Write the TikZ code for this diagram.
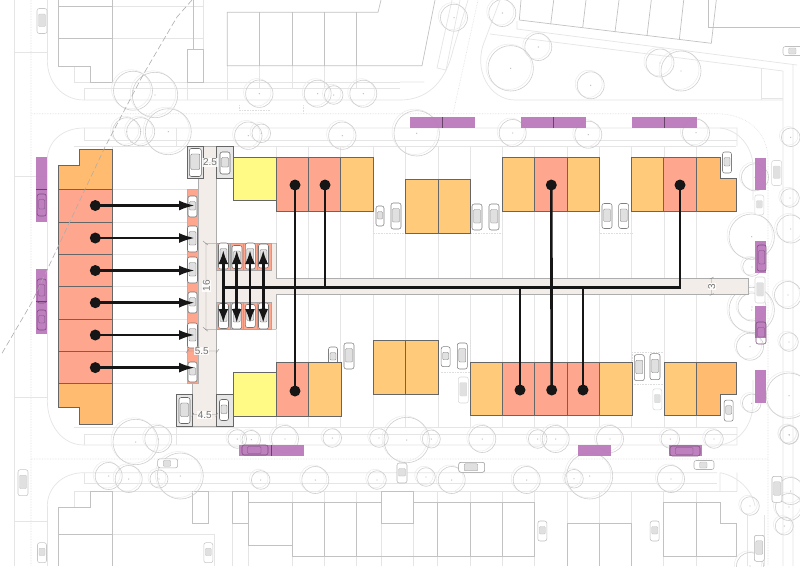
\documentclass[tikz,border=0pt]{standalone}
\usepackage{fontspec}
\setmainfont{Liberation Sans}
\usetikzlibrary{arrows.meta}
\definecolor{redunit}{HTML}{FFA68E}
\definecolor{orangeunit}{HTML}{FFCB7A}
\definecolor{cornerunit}{HTML}{FFBC70}
\definecolor{yellowunit}{HTML}{FFF986}
\definecolor{roadfill}{HTML}{F2EDE8}
\definecolor{purplebar}{HTML}{BB7ABB}
\definecolor{bayfill}{HTML}{E6E6E6}
\definecolor{inkk}{HTML}{161616}
\tikzset{
  x=1pt,y=-1pt,
  unitline/.style={draw=black!60,line width=1pt},
  redbox/.style={unitline,fill=redunit},
  orangebox/.style={unitline,fill=orangeunit},
  cornerbox/.style={unitline,fill=cornerunit},
  yellowbox/.style={unitline,fill=yellowunit},
  purplebox/.style={fill=purplebar,draw=none,opacity=.95},
  purplesep/.style={draw=black!45!purplebar,line width=.5pt},
  roadedge/.style={draw=black!32,line width=1pt},
  baybox/.style={draw=black!60,line width=1pt,fill=bayfill},
  tree/.style={draw=black!19,line width=.6pt},
  treehalo/.style={draw=black!8,line width=.5pt},
  ctxdark/.style={draw=black!24,line width=.7pt},
  ctxlight/.style={draw=black!10,line width=.7pt},
  ctxdot/.style={draw=black!13,line width=.6pt,densely dotted},
  dimline/.style={draw=black!45,line width=.4pt},
  dimlabel/.style={fill=white,fill opacity=.85,text opacity=1,text=black!55,font=\fontsize{10}{11}\selectfont,inner sep=.6pt},
  housedot/.style={circle,fill=inkk,draw=none,minimum size=11pt,inner sep=0pt},
  link/.style={draw=inkk,line width=2.6pt},
  arrowlink/.style={link,-{Latex[length=16pt,width=10pt]}},
  bothlink/.style={link,{Latex[length=14pt,width=10pt]}-{Latex[length=14pt,width=10pt]}},
}
% car: x, y, length, width, angle, line shade
\newcommand{\carsym}[6]{%
  \begin{scope}[shift={(#1,#2)},rotate=#5]
    \draw[draw=black!#6,fill=white,line width=.55pt,rounded corners=2.2pt] (-#4/2,-#3/2) rectangle (#4/2,#3/2);
    \draw[draw=black!#6,fill=black!12,line width=.35pt,rounded corners=1pt] (-#4/2+1.5,-#3/2+5.5) rectangle (#4/2-1.5,#3/2-7);
  \end{scope}}
\newcommand{\carghost}[5]{%
  \begin{scope}[shift={(#1,#2)},rotate=#5]
    \draw[draw=black!35!purplebar,line width=.55pt,rounded corners=2.2pt] (-#4/2,-#3/2) rectangle (#4/2,#3/2);
    \draw[draw=black!35!purplebar,line width=.35pt,rounded corners=1pt] (-#4/2+1.5,-#3/2+5.5) rectangle (#4/2-1.5,#3/2-7);
  \end{scope}}
\newcommand{\treesym}[3]{%
  \draw[treehalo] (#1-2,#2-1.5) circle[radius=#3 pt];
  \draw[tree] (#1,#2) circle[radius=#3 pt];
  \fill[black!25] (#1,#2) circle[radius=.7pt];}
\begin{document}
\begin{tikzpicture}
\useasboundingbox (0,0) rectangle (800,566);
\fill[white] (0,0) rectangle (800,566);

% ---- faint street context
\draw[ctxlight] (14.7,0) -- (14.7,566) (47.3,0) -- (47.3,60) (47.3,160) -- (47.3,400) (47.3,506) -- (47.3,566);
\draw[ctxlight] (14.7,52) -- (47.3,52) (14.7,397) -- (47.3,397) (14.7,176) -- (47.3,176) (14.7,521) -- (47.3,521);
\draw[ctxlight] (47.3,60) .. controls (47.3,82) and (62,100) .. (84,100) -- (400,100) .. controls (425,100) and (445,85) .. (453,50) -- (468,0);
\draw[ctxlight] (400,82) -- (424,82) (437,68) -- (452,0) (437,68) -- (446,70) -- (460,0);
\draw[ctxlight] (74,66) -- (74,82) -- (400,82);
\draw[ctxlight] (84,100) -- (84,88.7) -- (400,88.7) (187,82) -- (187,100) (227,66) -- (227,100);
\draw[ctxlight] (112,6.3) -- (203.5,6.3) (112,38.7) -- (203.5,38.7) (203.5,0) -- (203.5,49);
\draw[ctxlight] (500,0) -- (485,40) .. controls (472,70) and (490,100) .. (515,100) -- (783,100);
\draw[ctxlight] (517,21) -- (517,29) -- (797,65) (490,34) -- (783,71) -- (783,566) (793,65) -- (793,566);
\draw[ctxlight] (761.7,68) -- (761.7,100) (761.7,98) -- (783,98);
\draw[ctxlight] (47.3,160) .. controls (47.3,142) and (62,128) .. (84,128) -- (737,128) -- (737,146);
\draw[ctxlight] (84,128) -- (84,140) -- (737,140) (176,128) -- (176,146) (112,146) -- (112,149) (74,146) -- (736,146);
\draw[ctxlight] (720,128) .. controls (740,130) and (752,148) .. (753,165) -- (753,200);
\draw[ctxlight] (47.3,400) .. controls (47.3,425) and (62,445) .. (84,445) -- (737,445) -- (737,427);
\draw[ctxlight] (84,445) -- (84,434) -- (737,434) (176,427) -- (176,445) (74,427) -- (737,427);
\draw[ctxlight] (720,445) .. controls (740,442) and (752,425) .. (753,405) -- (753,380);
\draw[ctxlight] (47.3,506) .. controls (47.3,488) and (62,472.7) .. (84,472.7) -- (717,472.7);
\draw[ctxlight] (84,472.7) -- (84,483.3) -- (717,483.3) (74,491.3) -- (737,491.3) (74,491.3) -- (74,507);
\draw[ctxlight] (720,472.7) .. controls (738,476) and (752,490) .. (755,506) (737,472.7) -- (737,491.3) (720,472.7) -- (720,491.3);
\draw[ctxlight] (112,534.7) -- (214,534.7) -- (214,566) (232.7,523.7) -- (232.7,566);
\draw[ctxlight] (764,515) -- (764,566) (747,515) -- (747,566);
% lot lines
\foreach \xx in {276,308,340.5,373,405,438,470,502.3,534.5,567,599.3,631.7,664,696.3}{
  \draw[ctxlight] (\xx,146) -- (\xx,278) (\xx,295) -- (\xx,427);}
\foreach \yy in {189.5,222,254.3,286.5,319,351,383.5}{\draw[ctxlight] (112,\yy) -- (187,\yy);}
\foreach \xx in {248.7,292,324.7,356.7,381,413.7,437.7,470,502.3,534.3,567,599.3,631.7,663.7,696.3}{
  \draw[ctxlight] (\xx,491.3) -- (\xx,566);}
\foreach \xx in {259.7,292,324.7,356.7}{\draw[ctxlight] (\xx,66) -- (\xx,88.7);}
% dotted lines
\draw[ctxdot] (31,0) -- (31,566) (31,113.7) -- (716,113.7) .. controls (745,113.7) and (768,130) .. (768,160) -- (768,566);
\draw[ctxdot] (31,459) -- (768,459) (453,113.7) -- (478,0);
\draw[ctxdot] (239,105) -- (239,110) -- (270,110) (303,105) -- (303,113.7);
\draw[ctxdot] (373,204) -- (373,233) -- (405,233) (470,204) -- (470,233) -- (502,233) (599,200) -- (599,233) -- (632,233);
\draw[ctxdot] (438,340) -- (438,372) (470,340) -- (470,372) -- (440,372) (632,352) -- (664,352) (632,352) -- (632,384) -- (664,384);

% ---- dark context buildings
\draw[ctxdark] (58,0) -- (58,66) -- (90,66) -- (90,82) -- (112,82) -- (112,0) (58,6.3) -- (112,6.3) (58,38.7) -- (112,38.7);
\draw[ctxdark] (187,82) rectangle (203.5,49.3) (193,0) -- (193,49.3);
\draw[ctxdark] (381,0) -- (378,12.3) -- (227.3,12.3) -- (227.3,65.7) -- (422,65.7) -- (435,0);
\foreach \xx in {259.7,292,324.7,356.7}{\draw[ctxdark] (\xx,12.3) -- (\xx,65.7);}
\draw[ctxdark] (521,0) -- (519.3,20) -- (711.3,43.3) -- (716.3,0);
\draw[ctxdark] (550.7,24.3) -- (553.7,0) (582.7,27.7) -- (586,0) (615,32) -- (619,0) (647,35.7) -- (651.3,0) (679.3,39.7) -- (683.7,0);
\draw[ctxdark] (708.3,0) -- (708.3,27.3) -- (800,27.3);
\draw[ctxdark] (58,566) -- (58,507.7) -- (90,507.7) -- (90,491.3) -- (112,491.3) -- (112,566) (58,534.7) -- (112,534.7);
\draw[ctxdark] (192.3,491.3) rectangle (208.3,523.7) (232.7,491.3) rectangle (248.7,523.7);
\draw[ctxdark] (292,556.7) -- (292,545.7) -- (248.7,545.7) -- (248.7,502.3) -- (380.7,502.3) (292,545.7) -- (292,502.3);
\draw[ctxdark] (292,556.7) -- (534.3,556.7) -- (534.3,502.3) -- (413.7,502.3);
\draw[ctxdark] (381,491.3) -- (381,523.7) -- (413.7,523.7) -- (413.7,491.3) -- (381,491.3);
\foreach \xx in {324.7,356.7,437.7,470,502.3}{\draw[ctxdark] (\xx,502.3) -- (\xx,556.7);}
\draw[ctxdark] (567,566) -- (567,523.7) -- (631.7,523.7) -- (631.7,566) (599.3,523.7) -- (599.3,566);
\draw[ctxdark] (663.7,556.7) -- (663.7,502.3) -- (720.7,502.3) -- (720.7,523.7) -- (736.7,523.7) -- (736.7,556.7) -- (663.7,556.7) (696.3,502.3) -- (696.3,556.7);

% ---- trees
\foreach \a/\b/\r in {133/90.7/19.5,155/95/22.7,259.3/93.7/13.7,317.7/93.7/13.5,333.7/95/9.3,363.3/93.7/13.5,
 126.7/131.7/14,140.7/131.7/14,168.3/131.7/23,248.3/135.7/13.7,261.3/133.3/9.3,342.3/135.7/13.7,416.7/133.3/22.7,
 454/17.7/13.5,502.3/13/13.5,538.3/47/13.5,510.7/68.3/22.7,590.7/85.3/13.5,660/63/14,681/71/20,
 512.7/133/13.5,588.3/134.7/13.5,696/132.7/13.5,790.7/137.3/9.3,
 135.7/442/22.7,158.3/439/13.5,237.3/439/9.3,251.3/439.7/9.3,285/439/13.5,332.3/438/9.3,379/438/9.3,
 406.7/440/22.7,431.3/439/9,482.3/439/13.5,537.7/439/9.3,555.7/439/13.5,610/439/13.5,670.3/439/9.3,714/439/9.3,789.3/435/9.3,
 108.7/476/13.5,128.7/479/13.5,159/479/9,180.3/476/23,260.7/480/9.3,315.3/480/13.5,377/480/9.3,
 426/477/9.3,451.7/480/13.5,526.7/480/13.5,574/478.7/9.3,589.7/476/23,671/479/13.5,750/506/9.3,
 790.7/491/13.5,789/507/13.5,784.3/526/9,750/566/13.5,
 751.7/236.7/22.7,755/177.3/13.5,790/198/9.3,790.7/229/14,752/267/9.3,788/295/13.5,752/307/14,
 750/346.7/13.5,751.7/403.3/9.3,789/395.7/22.7,789/342/9.3,789/434.7/9.3,751.7/310/22.7}{
  \treesym{\a}{\b}{\r}}

% ---- faint cars
\carsym{42}{21}{25}{10}{0}{22}
\carsym{23}{482.7}{26}{10}{0}{22}
\carsym{42}{552.7}{20}{9}{0}{22}
\carsym{208.3}{552.7}{20}{9}{0}{22}
\carsym{167.7}{463.3}{20}{9}{90}{30}
\carsym{471.7}{467.3}{26}{10}{90}{40}
\carsym{704}{465}{20}{9}{90}{30}
\carsym{777}{489.3}{26}{10}{0}{28}
\carsym{759.3}{548.3}{26}{10}{0}{30}
\carsym{542.3}{531}{20}{9}{0}{25}
\carsym{654.7}{531}{20}{9}{0}{25}
\carsym{402}{473}{20}{10}{0}{28}
\carsym{776.7}{173}{25}{10}{0}{15}
\carsym{759.3}{205}{20}{9}{0}{15}
\carsym{760}{290}{26}{10}{0}{15}
\carsym{463.3}{390}{26}{10}{0}{15}
\carsym{657.3}{399.3}{21}{9}{0}{15}
\carsym{793}{51}{20}{9}{90}{25}

% ---- purple bars
\foreach \xa/\ya/\xb/\yb in {410/117.3/475/128,520.7/117.3/585.7/128,631.7/117.3/696.7/128,
  239/445/303.7/455.7,578.3/445/611/455.7,669.3/445/701.7/455.7,
  36/157/47/221.7,36/269/47/333.7,
  755/157.7/766/190.3,755/241/766/273.3,755/305.7/766/338.3,755/370.3/766/402.7}{
  \fill[purplebox] (\xa,\ya) rectangle (\xb,\yb);}
\draw[purplesep] (442.7,117.3) -- (442.7,128) (553,117.3) -- (553,128) (664,117.3) -- (664,128) (271,445) -- (271,455.7) (36,189.5) -- (47,189.5) (36,301) -- (47,301);
\carghost{41.7}{205}{22}{9}{0}
\carghost{41.7}{291}{24}{9}{0}
\carghost{41.7}{320}{20}{9}{0}
\carghost{255}{450}{26}{10}{90}
\carghost{685}{451}{30}{10}{90}
\carghost{761.7}{258}{26}{9}{0}
\carghost{761}{333}{22}{10}{0}

% ---- roads
\path[fill=roadfill,roadedge] (198,146) -- (216.7,146) -- (216.7,426.7) -- (192.7,426.7) -- (192.7,383.5) -- (198,383.5) -- cycle;
\path[fill=roadfill] (216.7,243) -- (276,243) -- (276,278.3) -- (748.3,278.3) -- (748.3,294.7) -- (276,294.7) -- (276,329.3) -- (216.7,329.3) -- cycle;
\draw[roadedge] (276,243) -- (276,278.3) -- (748.3,278.3) -- (748.3,294.7) -- (276,294.7) -- (276,329.3);
\draw[ctxdark] (205,243) -- (276,243) (205,329.3) -- (276,329.3);

% ---- parking bays
\fill[redunit,draw=black!30,line width=.5pt] (187,189.5) rectangle (198,383.5);
\foreach \xa/\xb in {216.7/230.7,230.7/243.7,243.7/257.3,257.3/271}{
  \fill[redunit,draw=black!35,line width=.5pt] (\xa,243) rectangle (\xb,270);
  \fill[redunit,draw=black!35,line width=.5pt] (\xa,302.7) rectangle (\xb,329.3);}
\draw[baybox] (187,146.7) rectangle (203.7,178.7);
\draw[baybox] (216.7,146.7) rectangle (233,178.7);
\draw[baybox] (176.3,394.3) rectangle (192.7,426.7);
\draw[baybox] (216.7,394.3) rectangle (233,426.7);

% ---- main cars
\carsym{192.5}{206.5}{21}{9}{0}{55}
\carsym{192.5}{239}{26}{10}{0}{55}
\carsym{192.5}{270}{26}{10}{0}{55}
\carsym{192.5}{302.5}{21}{9}{0}{55}
\carsym{192.5}{335.5}{25}{10}{0}{55}
\carsym{192.5}{372}{20}{9}{0}{55}
\carsym{195.3}{162.5}{28}{12}{0}{60}
\carsym{225}{163}{22}{10}{0}{60}
\carsym{184.5}{410.5}{26}{11}{0}{60}
\carsym{224}{410}{21}{9}{0}{60}
\carsym{223.5}{256}{26}{10}{0}{55}
\carsym{237}{257}{23}{10}{0}{55}
\carsym{250.3}{256}{26}{10}{0}{55}
\carsym{263.5}{256}{24}{10}{0}{55}
\carsym{223.5}{316}{25}{10}{0}{55}
\carsym{236.7}{316}{26}{10}{0}{55}
\carsym{250.3}{316}{23}{10}{0}{55}
\carsym{263.5}{316}{26}{10}{0}{55}
\carsym{380}{216}{20}{8}{0}{50}
\carsym{396}{216}{26}{10}{0}{50}
\carsym{477}{217}{26}{10}{0}{50}
\carsym{494}{217}{26}{10}{0}{50}
\carsym{607}{216}{25}{10}{0}{50}
\carsym{623.7}{216}{25}{10}{0}{50}
\carsym{727}{162.5}{21}{9}{0}{50}
\carsym{333}{357}{20}{9}{0}{50}
\carsym{349}{356}{26}{10}{0}{50}
\carsym{445.7}{356.7}{20}{9}{0}{50}
\carsym{462.3}{356}{26}{10}{0}{50}
\carsym{639.3}{367.7}{26}{10}{0}{50}
\carsym{655}{366.7}{26}{10}{0}{50}
\carsym{728.7}{410.7}{21}{9}{0}{50}

% ---- housing units
\path[cornerbox] (58,189.5) -- (58,165) -- (79,165) -- (79,149) -- (112,149) -- (112,189.5) -- cycle;
\foreach \ya/\yb in {189.5/222,222/254.3,254.3/286.5,286.5/319,319/351,351/383.5}{
  \path[redbox] (58,\ya) rectangle (112,\yb);}
\path[cornerbox] (58,383.5) -- (112,383.5) -- (112,424) -- (79,424) -- (79,407.7) -- (58,407.7) -- cycle;

\path[yellowbox] (233,157) rectangle (276,200.3);
\path[redbox] (276,157) rectangle (308,211);
\path[redbox] (308,157) rectangle (340.5,211);
\path[orangebox] (340.5,157) rectangle (373,211);
\path[orangebox] (405,179) rectangle (438,233);
\path[orangebox] (438,179) rectangle (470,233);
\path[orangebox] (502.3,157) rectangle (534.3,211);
\path[redbox] (534.3,157) rectangle (567,211);
\path[orangebox] (567,157) rectangle (599.3,211);
\path[orangebox] (631.7,157) rectangle (663.7,211);
\path[redbox] (663.7,157) rectangle (696.3,211);
\path[cornerbox] (696.3,157) -- (720.3,157) -- (720.3,178.3) -- (736.7,178.3) -- (736.7,211) -- (696.3,211) -- cycle;

\path[yellowbox] (233,372.7) rectangle (276,416);
\path[redbox] (276,362) rectangle (308,416);
\path[orangebox] (308,362) rectangle (341,416);
\path[orangebox] (373,340) rectangle (405.5,394);
\path[orangebox] (405.5,340) rectangle (438,394);
\path[orangebox] (470,362) rectangle (502.3,415.7);
\path[redbox] (502.3,362) rectangle (534.7,415.7);
\path[redbox] (534.7,362) rectangle (567,415.7);
\path[redbox] (567,362) rectangle (599.3,415.7);
\path[orangebox] (599.3,362) rectangle (632,415.7);
\path[orangebox] (664,362) rectangle (696.3,415.7);
\path[cornerbox] (696.3,362) -- (736.7,362) -- (736.7,394) -- (720.3,394) -- (720.3,415.7) -- (696.3,415.7) -- cycle;

% ---- dashed boundary
\draw[draw=black!32,line width=.6pt,dash pattern=on 6pt off 3pt] (192,0) -- (177,17) -- (143,75) -- (105,147) -- (32,302) -- (1,355);

% ---- dimensions
\draw[dimline] (203.7,162) -- (216.7,162);
\draw[dimline] (206,243) -- (206,329.3) (203,241) -- (208,245) (203,327.3) -- (208,331.3);
\draw[dimline] (187,351) -- (218,351) (216,353) -- (219,349) (186,353) -- (189,349);
\draw[dimline] (192.7,414.7) -- (216.7,414.7) (191.7,416.5) -- (193.7,413) (215.7,416.5) -- (217.7,413);
\draw[dimline] (711.7,278.3) -- (711.7,294.7) (709.7,279) -- (713.7,277) (709.7,295.5) -- (713.7,293.5);
\node[dimlabel] (d25) at (210,162.5) {2.5};
\node[dimlabel,rotate=90] (d16) at (206.5,285.7) {16};
\node[dimlabel] (d55) at (201.7,351.3) {5.5};
\node[dimlabel] (d45) at (204.7,414.7) {4.5};
\node[dimlabel,rotate=90] (d3) at (711.7,286.7) {3};

% ---- connectors
\foreach \n/\yy in {1/205.5,2/238,3/270.5,4/302.7,5/335,6/367.6}{
  \node[housedot] (w\n) at (95.3,\yy) {};
  \coordinate (p\n) at (195,\yy);
  \draw[arrowlink] (w\n.center) -- (p\n);}
\coordinate (a1) at (223.3,250); \coordinate (b1) at (223.3,323);
\coordinate (a2) at (236.7,250); \coordinate (b2) at (236.7,323);
\coordinate (a3) at (250,250);   \coordinate (b3) at (250,323);
\coordinate (a4) at (263.2,250); \coordinate (b4) at (263.2,323);
\foreach \n in {1,2,3,4}{\draw[bothlink] (a\n) -- (b\n);}
\node[housedot] (t1) at (295,185) {};
\node[housedot] (t2) at (325,185) {};
\node[housedot] (t3) at (551.3,185) {};
\node[housedot] (t4) at (680,185) {};
\node[housedot] (s1) at (295,391) {};
\node[housedot] (s2) at (520,390) {};
\node[housedot] (s3) at (551.7,390) {};
\node[housedot] (s4) at (583,390) {};
\coordinate (spine) at (223.3,287.2);
\draw[link,line join=miter] (spine) -- (spine -| t4) -- (t4.center);
\draw[link] (t1.center) -- (s1.center);
\draw[link] (t2.center) -- (t2 |- spine);
\draw[link] (t3.center) -- (s3.center);
\draw[link] (s2.center) -- (s2 |- spine);
\draw[link] (s4.center) -- (s4 |- spine);
\end{tikzpicture}
\end{document}
